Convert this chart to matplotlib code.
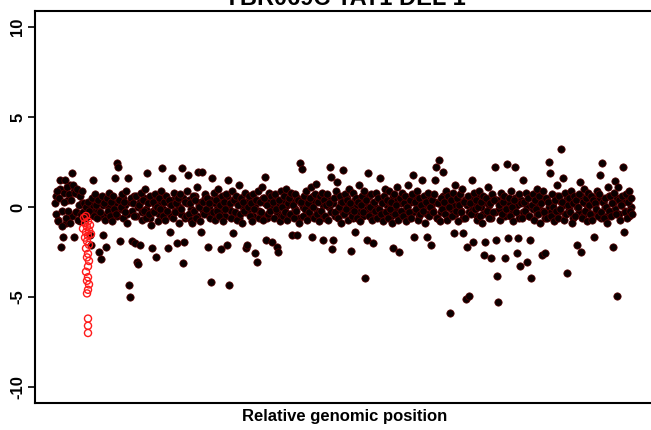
import numpy as np
import matplotlib
matplotlib.use("Agg")
import matplotlib.pyplot as plt

plt.rcParams['font.family'] = ['Liberation Sans', 'DejaVu Sans']

# Title and axis text
TITLE = "YBR069C TAT1 DEL 1"
XLABEL = "Relative genomic position"
Y_TICKS = [-10, -5, 0, 5, 10]

# log ratio per gene, in genomic order (black points)
ratios = [float(v) for v in """
0.2 -0.4 0.9 -0.8 0.5 1.5 -2.2 -1.05 -1.65 0.3
1.5 -0.6 1.1 -0.2 0.7 -0.9 0.4 1.9 1.2 -1.65
0.8 -0.3 1.0 -0.7 0.1 0.6 -0.4 0.9
-0.3 0.2 -0.6 0.0 -0.4 0.3 -0.2 -1.55 -2.1 0.5
1.5 -0.5 0.7 0.1 -0.6 0.4 -2.5 -0.3 -2.9 0.6
-1.55 0.2 -0.7 -2.2 0.5 -0.2 0.8 -0.5 0.3 -0.8
0.6 -0.1 1.6 -0.4 2.45 2.2 0.4 -1.9 0.0 0.7
-0.6 0.3 -0.3 0.9 -0.9 1.6 -4.35 -5.0 0.5 -1.9
0.2 -0.5 -2.0 0.6 -3.05 -3.15 0.1 -2.1 0.8 -0.7
0.4 -0.2 1.0 -0.6 1.9 0.2 -0.4 0.6 -1.0 -2.3
0.3 -0.3 0.7 -2.8 0.0 -0.8 0.5 -0.1 0.9 2.15
-0.5 0.3 -0.7 0.6 -0.2 -2.3 0.4 -1.4 0.1 1.6
-0.6 0.8 -0.3 0.2 -2.0 0.5 -0.9 0.7 -0.1 2.15
-3.1 -1.95 0.3 -0.5 0.9 1.8 -0.4 0.2 -0.7 -0.9
0.6 -0.2 0.4 -0.6 1.1 1.95 0.0 -0.8 -1.4 1.95
0.3 -0.4 0.7 -0.1 0.5 -2.2 0.2 -0.6 -4.15 1.6
-0.3 0.8 -0.7 0.4 -0.2 1.0 -0.5 0.1 -2.35 0.6
-0.8 0.3 -0.1 0.7 -2.1 1.5 -4.35 0.2 -0.6 0.9
-1.45 0.4 -0.3 0.6 -0.7 0.1 1.2 -0.4 0.5 -0.9
0.3 -0.2 0.8 -2.3 -2.1 0.0 0.6 -0.5 0.2 -0.8
0.7 -0.1 -2.55 0.4 -3.05 0.9 -0.6 0.3 -0.3 1.1
-0.7 0.5 1.65 -1.85 0.1 -0.4 0.8 -0.2 0.6 -1.95
0.3 -0.6 0.7 -0.1 -2.2 -2.5 0.4 -0.8 0.9 0.0
-0.5 0.6 -0.3 1.0 -0.7 0.2 0.5 -0.4 0.8 -1.55
0.1 -0.6 0.7 -0.2 -1.55 0.4 -0.9 2.45 0.3 2.1
-0.5 0.6 -0.1 0.9 -0.7 0.2 -0.3 0.5 1.1 -1.65
0.0 -0.6 0.7 1.3 -0.4 0.3 -0.8 0.6 -0.2 0.8
-1.85 0.4 -0.5 0.1 0.7 -0.7 0.2 2.2 1.65 -2.35
-1.85 0.5 -0.3 0.9 1.4 -0.6 0.0 0.6 -0.9 0.3
2.05 -0.4 0.7 -0.1 0.4 -0.7 1.0 0.2 -2.45 -0.5
0.8 -0.2 -1.4 0.5 -0.6 0.3 1.2 -0.8 0.1 0.6
-0.3 0.9 -3.95 0.4 -1.85 1.9 -0.5 0.0 0.7 -0.7
-2.0 0.3 -0.2 0.8 -0.6 0.5 -0.1 1.6 -0.4 0.2
-0.8 0.6 1.0 -0.3 0.4 -0.6 0.9 -0.1 0.3 -0.9
-2.3 0.7 -0.4 0.1 1.1 -0.7 -2.5 0.5 -0.2 0.8
-0.5 0.2 0.6 -0.8 0.0 1.2 -0.3 0.4 -0.6 0.7
1.8 -1.65 0.3 -0.1 0.9 -0.7 0.5 -0.4 0.1 1.5
-0.2 0.6 -0.9 0.3 -1.65 0.8 -0.5 0.0 -2.1 0.4
-0.3 0.7 1.5 2.2 -0.6 0.2 2.6 -0.8 0.5 -0.1
1.95 0.3 -0.4 0.9 -0.7 0.6 0.0 -5.9 0.4 -0.5
0.8 -1.45 1.2 -0.2 0.5 -0.8 0.1 0.7 -0.3 1.0
-1.45 0.3 -0.6 -5.1 -2.2 0.6 -4.95 0.2 -0.4 1.5
-1.95 0.8 -0.1 0.4 -0.7 0.0 0.9 -0.5 0.3 -0.9
0.6 -2.65 -1.95 0.5 -0.2 1.1 -0.6 0.2 -2.85 0.7
-0.3 0.4 2.2 -1.85 -3.85 -5.3 0.1 -0.7 0.8 -0.4
0.3 0.6 -2.85 -0.1 2.4 -1.7 0.5 -0.5 0.9 0.0
-0.8 0.4 2.25 -0.3 -2.55 -1.7 0.7 -3.3 0.2 -0.6
1.5 0.3 -0.2 0.8 -3.05 0.5 -0.5 -1.85 -3.95 0.1
0.7 -0.7 0.4 -0.1 1.0 -0.4 0.6 -0.9 0.2 -2.65
0.9 -0.3 -2.55 0.5 -0.6 0.3 2.5 1.9 -0.5 0.7
0.0 -0.8 0.4 -0.2 1.2 -0.6 0.6 -0.1 3.25 0.3
1.6 -0.7 0.8 -0.4 -3.65 0.1 0.5 -0.3 0.9 -0.9
0.2 0.6 -0.5 0.4 -2.1 0.0 0.7 1.4 -2.5 -0.6
0.3 1.0 -0.2 0.5 -0.8 0.8 0.1 -0.4 0.6 -0.7
0.4 -1.65 0.2 -0.1 0.9 -0.5 0.7 1.8 -0.3 2.45
0.3 -0.6 0.5 0.0 -0.9 1.1 -0.2 0.6 -0.5 0.2
-2.2 0.8 1.45 -0.4 -4.95 1.1 0.4 -0.7 0.1 0.6
2.25 -1.4 -0.3 0.7 -0.6 0.3 0.9 -0.2 0.5 -0.4
""".split()]

# second set of genes lying between the ones above (every other position)
ratios_b = [float(v) for v in """
0.6 -0.7 1.0 -0.2 0.8 -0.9 0.4 1.2 -0.5 0.9
-0.3 0.7 -0.8 0.2 -0.4 -0.1 -0.5 -0.2 0.1 -0.3
0.4 -0.2 0.5 -0.5 0.1 0.3 -0.4 0.0 0.6 -0.3
0.2 -0.5 0.4 -0.1 0.5 0.1 -0.4 0.3 -0.2 0.6
-0.5 0.0 0.3 -0.3 0.5 -0.1 0.2 -0.6 0.4 -0.2
0.1 0.5 -0.4 0.3 -0.1 0.6 -0.3 0.2 -0.5 0.4
-0.2 0.3 0.0 -0.4 0.5 -0.6 0.2 0.4 -0.1 -0.3
0.6 -0.5 0.1 0.3 -0.2 0.5 -0.4 0.0 0.4 -0.6
0.2 -0.1 0.5 -0.3 0.3 -0.5 0.6 0.1 -0.2 0.4
-0.4 0.2 -0.6 0.5 0.0 -0.3 0.3 -0.1 0.6 -0.5
0.1 0.4 -0.2 -0.4 0.5 0.2 -0.6 0.3 -0.1 0.0
0.5 -0.3 0.2 -0.5 0.4 -0.2 0.1 0.6 -0.4 0.3
-0.1 0.5 -0.6 0.2 0.0 0.4 -0.3 0.1 -0.5 0.6
0.3 -0.2 0.4 -0.4 0.1 -0.6 0.5 0.0 -0.3 0.2
-0.5 0.6 -0.1 0.3 -0.4 0.2 0.5 -0.2 0.0 -0.6
0.4 0.1 -0.3 0.5 -0.5 0.3 -0.1 0.6 -0.4 0.2
0.0 -0.2 0.5 -0.6 0.4 -0.3 0.1 0.3 -0.5 0.6
-0.1 0.4 -0.4 0.2 0.5 -0.2 0.0 -0.6 0.3 -0.3
0.6 0.1 -0.5 0.4 -0.1 0.2 -0.4 0.5 0.0 -0.2
0.3 -0.6 0.2 -0.3 0.6 0.0 -0.5 0.4 -0.1 0.1
-0.4 0.5 0.3 -0.2 -0.6 0.4 0.1 -0.3 0.5 -0.1
0.2 -0.5 0.6 0.0 -0.4 0.3 -0.2 0.1 -0.6 0.5
-0.3 0.4 -0.1 0.2 0.6 -0.5 0.0 0.3 -0.4 -0.2
0.5 0.1 -0.6 0.4 -0.3 0.2 0.0 -0.5 0.6 -0.1
0.3 -0.4 0.1 0.5 -0.2 -0.6 0.4 0.0 -0.3 0.2
-0.5 0.6 -0.2 0.3 0.1 -0.4 0.5 -0.1 0.2 -0.6
0.4 0.0 -0.3 0.6 -0.5 0.2 -0.1 0.3 -0.4 0.5
0.1 -0.2 0.4 -0.6 0.3 0.0 -0.5 0.6 -0.3 0.2
-0.1 0.5 -0.4 0.1 0.3 -0.2 0.6 -0.5 0.0
""".split()]

# genes inside the deleted region (red circles): position and ratio
del_pos = [31, 29, 33, 30, 35, 32, 28, 34, 31, 36, 33, 30, 32, 34,
           31, 33, 32, 34, 33, 31, 33, 32, 34, 33, 32, 33, 33, 33]
del_ratios = [-0.5, -0.6, -0.8, -0.9, -1.0, -1.1, -1.2, -1.3, -1.4, -1.5,
              -1.6, -1.7, -1.9, -2.1, -2.3, -2.6, -2.8, -3.0, -3.3, -3.6,
              -3.9, -4.1, -4.3, -4.6, -4.8, -6.2, -6.6, -7.0]


def main():
    W, H = 651, 430
    fig = plt.figure(figsize=(W / 100, H / 100), dpi=100)
    # axes box: left 35px, top 11px, bottom 403px, right runs off the page
    ax = fig.add_axes([35 / W, (H - 403) / H, 620 / W, 392 / H])

    n = len(ratios)
    pos = np.arange(n)
    pos_b = np.arange(len(ratios_b)) * 2 + 0.5
    dot = dict(s=28, facecolor="#0a0000", edgecolor="#5c0000", linewidths=0.5, zorder=2)
    ax.scatter(pos_b, ratios_b, **dot)
    ax.scatter(pos, ratios, **dot)
    ax.scatter(del_pos, del_ratios, s=26, facecolor="none", edgecolor="#ff1a1a",
               linewidths=1.0, zorder=3)

    # data spans px 55..632 inside a box from px 35 to 655
    scale = (n - 1) / 577.0
    ax.set_xlim(-20 * scale, (n - 1) + 23 * scale)
    ax.set_ylim(-10.89, 10.89)

    ax.set_xticks([])
    ax.set_yticks(Y_TICKS)
    ax.set_yticklabels([str(t) for t in Y_TICKS], rotation=90, va="center",
                       fontsize=12, fontweight="bold")
    ax.tick_params(axis="y", length=5, width=1.2, pad=2)
    for s in ax.spines.values():
        s.set_linewidth(1.5)

    fig.text(345 / W, 1 - 5 / H, TITLE, ha="center", va="baseline",
             fontsize=17, fontweight="bold")
    fig.text(345 / W, 1 - 417 / H, XLABEL, ha="center", va="center",
             fontsize=12, fontweight="bold")

    fig.savefig("out.png", dpi=100)


if __name__ == '__main__':
    main()
